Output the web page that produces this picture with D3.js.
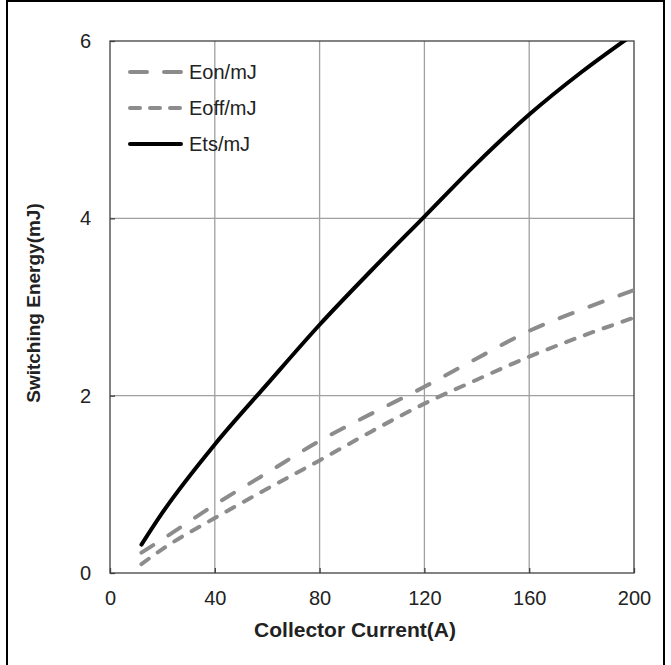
<!DOCTYPE html>
<html><head><meta charset="utf-8">
<script src="https://cdn.jsdelivr.net/npm/d3@7"></script>
<style>body{margin:0;background:#fff;}svg{display:block;font-family:"Liberation Sans",Arial,sans-serif;}</style>
</head><body>
<svg id="c" width="671" height="665"></svg>
<script>
const current = [12, 20, 40, 60, 80, 100, 120, 140, 160, 180, 200];
const eon  = [0.23, 0.38, 0.77, 1.13, 1.49, 1.80, 2.10, 2.42, 2.73, 2.97, 3.19];
const eoff = [0.10, 0.27, 0.62, 0.95, 1.27, 1.60, 1.91, 2.18, 2.44, 2.67, 2.88];
const ets  = [0.32, 0.68, 1.45, 2.13, 2.80, 3.42, 4.02, 4.62, 5.17, 5.65, 6.08];
const xTicks = [0, 40, 80, 120, 160, 200];
const yTicks = [0, 2, 4, 6];
const seriesNames = ["Eon/mJ", "Eoff/mJ", "Ets/mJ"];

const svg = d3.select("#c");
svg.append("rect").attr("x",7).attr("y",1).attr("width",657).attr("height",670)
  .attr("fill","none").attr("stroke","#000").attr("stroke-width",2);

const L=110, R=634, T=41, B=573;
const x = d3.scaleLinear().domain([0,200]).range([L,R]);
const y = d3.scaleLinear().domain([0,6]).range([B,T]);

// grid
svg.append("g").selectAll("line").data(xTicks.slice(1,-1)).join("line")
  .attr("x1",d=>x(d)).attr("x2",d=>x(d)).attr("y1",T).attr("y2",B)
  .attr("stroke","#a0a0a0").attr("stroke-width",1.3);
svg.append("g").selectAll("line").data(yTicks.slice(1,-1)).join("line")
  .attr("y1",d=>y(d)).attr("y2",d=>y(d)).attr("x1",L).attr("x2",R)
  .attr("stroke","#a0a0a0").attr("stroke-width",1.3);

// axes with inside ticks
const xa = svg.append("g").attr("transform",`translate(0,${B})`)
  .call(d3.axisBottom(x).tickValues(xTicks).tickFormat(d3.format("d")).tickSize(-5).tickPadding(18).tickSizeOuter(0));
const ya = svg.append("g").attr("transform",`translate(${L},0)`)
  .call(d3.axisLeft(y).tickValues(yTicks).tickFormat(d3.format("d")).tickSize(-5).tickPadding(20).tickSizeOuter(0));
[xa,ya].forEach(a=>{
  a.select(".domain").remove();
  a.selectAll("line").attr("stroke","#404040").attr("stroke-width",1.3);
  a.selectAll("text").attr("font-size",20).attr("fill","#222")
   .attr("font-family",'"Liberation Sans",Arial,sans-serif');
});
xa.selectAll("text").attr("dy","0.35em").attr("y",25);
ya.selectAll("text").attr("x",-19);

// plot border
svg.append("rect").attr("x",L).attr("y",T).attr("width",R-L).attr("height",B-T)
  .attr("fill","none").attr("stroke","#404040").attr("stroke-width",1.3);

// clip
svg.append("clipPath").attr("id","clip").append("rect")
  .attr("x",L).attr("y",T).attr("width",R-L).attr("height",B-T);

const line = d3.line().x(d=>x(d[0])).y(d=>y(d[1])).curve(d3.curveMonotoneX);
const styles = [
  {data:eon, color:"#8c8c8c", w:4, dash:"14,18"},
  {data:eoff, color:"#8c8c8c", w:4, dash:"9,11"},
  {data:ets, color:"#000", w:4, dash:null}
];
const g = svg.append("g").attr("clip-path","url(#clip)");
styles.forEach(s=>{
  g.append("path").datum(current.map((c,i)=>[c,s.data[i]]))
   .attr("d",line).attr("fill","none").attr("stroke",s.color)
   .attr("stroke-width",s.w).attr("stroke-linecap","round")
   .attr("stroke-dasharray",s.dash);
});

// legend
const lg = svg.append("g");
seriesNames.forEach((n,i)=>{
  const yy = 72 + i*36;
  const s = styles[i];
  lg.append("line").attr("x1",130).attr("x2",181).attr("y1",yy).attr("y2",yy)
    .attr("stroke",s.color).attr("stroke-width",s.w).attr("stroke-linecap","round")
    .attr("stroke-dasharray", i===0 ? "17,17" : (i===1 ? "10,10" : null));
  lg.append("text").attr("x",189).attr("y",yy).attr("dy","0.35em")
    .attr("font-size",20).attr("fill","#222").text(n);
});

// axis titles
svg.append("text").attr("x",355).attr("y",630).attr("dy","0.35em")
  .attr("text-anchor","middle").attr("font-size",21).attr("font-weight","bold")
  .attr("fill","#222").text("Collector Current(A)");
svg.append("text").attr("transform",`translate(33,303) rotate(-90)`)
  .attr("dy","0.35em").attr("text-anchor","middle").attr("font-size",19)
  .attr("font-weight","bold").attr("fill","#222").text("Switching Energy(mJ)");
</script>
</body></html>
